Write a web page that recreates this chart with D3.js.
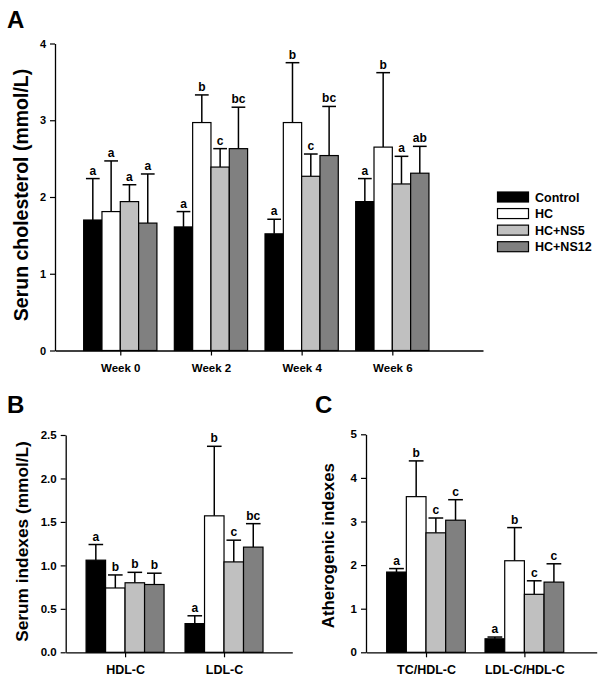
<!DOCTYPE html>
<html>
<head>
<meta charset="utf-8">
<script src="https://cdn.jsdelivr.net/npm/d3@7"></script>
<style>
  html, body { margin: 0; padding: 0; background: #fff; }
  svg { display: block; font-family: "Liberation Sans", Arial, sans-serif; font-weight: bold; }
</style>
</head>
<body>
<svg id="chart" width="600" height="679"></svg>
<script>
// ---------- data ----------
const seriesNames = ["Control", "HC", "HC+NS5", "HC+NS12"];
const seriesColors = ["#000000", "#ffffff", "#c0c0c0", "#808080"];

// Panel A
const weekLabels = ["Week 0", "Week 2", "Week 4", "Week 6"];
const cholMean = [
  [1.70, 1.81, 1.94, 1.66],
  [1.61, 2.97, 2.39, 2.63],
  [1.52, 2.97, 2.27, 2.54],
  [1.94, 2.65, 2.17, 2.31]
];
const cholSD = [
  [0.54, 0.66, 0.22, 0.64],
  [0.20, 0.36, 0.24, 0.54],
  [0.19, 0.78, 0.29, 0.64],
  [0.30, 0.97, 0.36, 0.35]
];
const cholLetters = [
  ["a", "a", "a", "a"],
  ["a", "b", "c", "bc"],
  ["a", "b", "c", "bc"],
  ["a", "b", "a", "ab"]
];
const cholTicks = [0, 1, 2, 3, 4];

// Panel B
const serumLabels = ["HDL-C", "LDL-C"];
const serumMean = [
  [1.06, 0.74, 0.80, 0.78],
  [0.33, 1.57, 1.04, 1.21]
];
const serumSD = [
  [0.18, 0.15, 0.12, 0.13],
  [0.09, 0.80, 0.25, 0.27]
];
const serumLetters = [
  ["a", "b", "b", "b"],
  ["a", "b", "c", "bc"]
];
const serumTicks = [0, 0.5, 1.0, 1.5, 2.0, 2.5];

// Panel C
const atheroLabels = ["TC/HDL-C", "LDL-C/HDL-C"];
const atheroMean = [
  [1.84, 3.57, 2.74, 3.03],
  [0.31, 2.10, 1.33, 1.61]
];
const atheroSD = [
  [0.08, 0.82, 0.34, 0.47],
  [0.04, 0.76, 0.31, 0.42]
];
const atheroLetters = [
  ["a", "b", "c", "c"],
  ["a", "b", "c", "c"]
];
const atheroTicks = [0, 1, 2, 3, 4, 5];

// ---------- drawing ----------
const svg = d3.select("#chart");

function drawPanel(cfg) {
  const g = svg.append("g");
  const x = d3.scaleLinear().domain(cfg.xDomain).range(cfg.xRange);
  const y = d3.scaleLinear().domain(cfg.yDomain).range(cfg.yRange);
  const bw = cfg.barUnits;

  cfg.mean.forEach((row, gi) => {
    row.forEach((v, si) => {
      const x0 = x(gi + (si - 2) * bw);
      const x1 = x(gi + (si - 1) * bw);
      const cx = (x0 + x1) / 2;
      const top = y(v);
      const errTop = y(v + cfg.sd[gi][si]);
      const capW = (x1 - x0) * 0.75;
      g.append("line")
        .attr("x1", cx).attr("x2", cx)
        .attr("y1", top).attr("y2", errTop)
        .attr("stroke", "#000").attr("stroke-width", 1.5);
      g.append("line")
        .attr("x1", cx - capW / 2).attr("x2", cx + capW / 2)
        .attr("y1", errTop).attr("y2", errTop)
        .attr("stroke", "#000").attr("stroke-width", 1.5);
      g.append("rect")
        .attr("x", x0).attr("width", x1 - x0)
        .attr("y", top).attr("height", y(0) - top)
        .attr("fill", seriesColors[si])
        .attr("stroke", "#000").attr("stroke-width", 1.2);
      g.append("text")
        .attr("x", cx).attr("y", errTop - 4)
        .attr("text-anchor", "middle")
        .attr("font-size", 12)
        .text(cfg.letters[gi][si]);
    });
  });

  const yAxis = d3.axisLeft(y).tickValues(cfg.yTicks).tickFormat(cfg.yFormat)
    .tickSize(5).tickSizeOuter(0).tickPadding(4);
  const ya = g.append("g").attr("transform", `translate(${cfg.xRange[0]},0)`).call(yAxis);
  ya.selectAll("text").attr("font-size", cfg.yTickSize).attr("font-family", "Liberation Sans, Arial, sans-serif").attr("font-weight", "bold").attr("fill", "#000");
  ya.select(".domain").attr("stroke-width", 1.3);
  ya.selectAll(".tick line").attr("stroke-width", 1.2);

  const xAxis = d3.axisBottom(x).tickValues(cfg.labels.map((d, i) => i))
    .tickFormat((d) => cfg.labels[d]).tickSize(5).tickSizeOuter(0).tickPadding(8);
  const xa = g.append("g").attr("transform", `translate(0,${cfg.yRange[0]})`).call(xAxis);
  xa.selectAll("text").attr("font-size", cfg.xTickSize).attr("font-family", "Liberation Sans, Arial, sans-serif").attr("font-weight", "bold").attr("fill", "#000");
  xa.select(".domain").attr("stroke-width", 1.3);
  xa.selectAll(".tick line").attr("stroke-width", 1.2);

  g.append("text")
    .attr("transform", `translate(${cfg.titleX},${cfg.titleY}) rotate(-90)`)
    .attr("text-anchor", "middle")
    .attr("font-size", cfg.titleSize)
    .text(cfg.title);

  g.append("text")
    .attr("x", cfg.letterPos[0]).attr("y", cfg.letterPos[1])
    .attr("font-size", 24)
    .text(cfg.panel);
}

drawPanel({
  panel: "A", letterPos: [7, 28],
  mean: cholMean, sd: cholSD, letters: cholLetters, labels: weekLabels,
  xDomain: [-0.72, 4], xRange: [55, 483], barUnits: 0.202,
  yDomain: [0, 4], yRange: [350.5, 43.5], yTicks: cholTicks, yFormat: d3.format("d"),
  yTickSize: 11, xTickSize: 11.5,
  title: "Serun cholesterol (mmol/L)", titleX: 27.5, titleY: 195, titleSize: 19.5
});

drawPanel({
  panel: "B", letterPos: [7, 413],
  mean: serumMean, sd: serumSD, letters: serumLetters, labels: serumLabels,
  xDomain: [-0.6, 1.69], xRange: [65.7, 292.3], barUnits: 0.197,
  yDomain: [0, 2.5], yRange: [652.3, 435], yTicks: serumTicks, yFormat: d3.format(".1f"),
  yTickSize: 11.5, xTickSize: 12.5,
  title: "Serum indexes (mmol/L)", titleX: 28, titleY: 541.5, titleSize: 17.3
});

drawPanel({
  panel: "C", letterPos: [315, 413],
  mean: atheroMean, sd: atheroSD, letters: atheroLetters, labels: atheroLabels,
  xDomain: [-0.61, 1.735], xRange: [366, 596.7], barUnits: 0.2,
  yDomain: [0, 5], yRange: [652.3, 434.3], yTicks: atheroTicks, yFormat: d3.format("d"),
  yTickSize: 11.5, xTickSize: 12.5,
  title: "Atherogenic indexes", titleX: 333.7, titleY: 545.7, titleSize: 16.8
});

// legend
const legend = svg.append("g");
const legY = d3.scaleLinear().domain([0, 3]).range([197, 246.7]);
seriesNames.forEach((name, i) => {
  legend.append("rect")
    .attr("x", 497.5).attr("y", legY(i) - 5)
    .attr("width", 31).attr("height", 10)
    .attr("fill", seriesColors[i]).attr("stroke", "#000").attr("stroke-width", 1.2);
  legend.append("text")
    .attr("x", 535).attr("y", legY(i) + 4.5)
    .attr("font-size", 12.5)
    .text(name);
});
</script>
</body>
</html>
